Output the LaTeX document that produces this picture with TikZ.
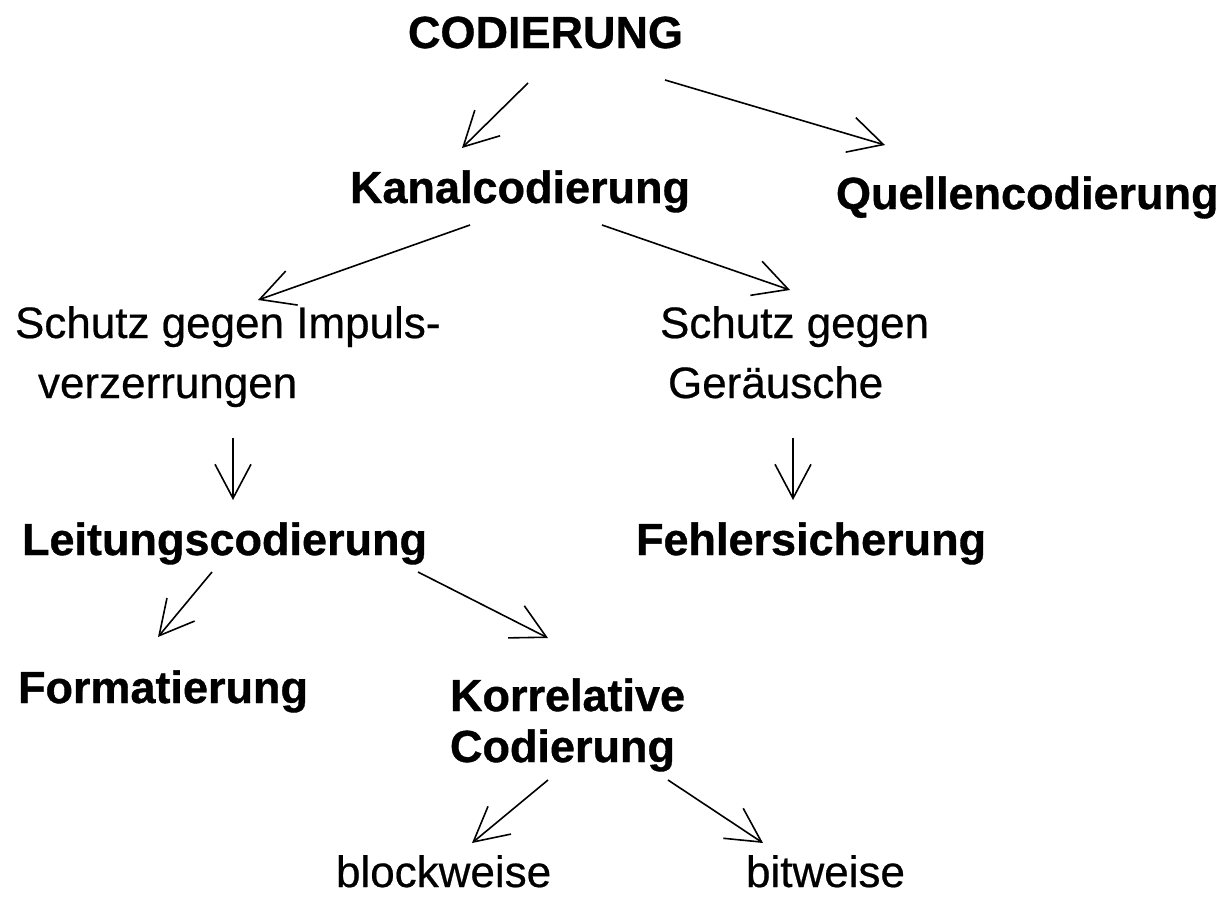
\documentclass[tikz,border=0pt]{standalone}
\usepackage{fontspec}
\setmainfont{Liberation Sans}
\newfontfamily\regf[FakeBold=0.5]{Liberation Sans}
\newfontfamily\boldf[FakeBold=0.8]{Liberation Sans}
\usetikzlibrary{arrows.meta}
\begin{document}
\begin{tikzpicture}[x=1pt,y=-1pt,
  every node/.style={inner sep=0pt,outer sep=0pt,anchor=base west},
  head/.style={font=\boldf\bfseries\fontsize{45}{52}\selectfont},
  plain/.style={font=\regf\fontsize{44}{60}\selectfont,align=left},
  headtwo/.style={font=\boldf\bfseries\fontsize{45}{51}\selectfont,align=left},
  arr/.style={line width=1.6pt,-{Straight Barb[length=34pt,width=36pt,line width=1.6pt]}}]
\useasboundingbox (0,0) rectangle (1230,902);
\fill[white] (0,0) rectangle (1230,902);

\node[head] (cod) at (408,48) {CODIERUNG};
\node[head] (kanal) at (350,203) {Kanalcodierung};
\node[head] (quell) at (836,209) {Quellencodierung};
\node[plain] (s1) at (15,398) {Schutz gegen Impuls-\\\hspace*{23pt}verzerrungen};
\node[plain] (s2) at (660,398) {Schutz gegen\\\hspace*{8pt}Geräusche};
\node[head] (leit) at (22,555) {Leitungscodierung};
\node[head] (fehl) at (636,555) {Fehlersicherung};
\node[head] (form) at (18,703) {Formatierung};
\node[headtwo] (korr) at (450,762) {Korrelative\\Codierung};
\node[plain] (block) at (336,887) {blockweise};
\node[plain] (bit) at (746,887) {bitweise};

\draw[arr] ([shift={(120,35)}]cod.base west) -- ([shift={(112,-55)}]kanal.base west);
\draw[arr] ([shift={(257,32)}]cod.base west) -- ([shift={(49,-64)}]quell.base west);
\draw[arr] ([shift={(120,22)}]kanal.base west) -- ([shift={(243,-98)}]s1.base west);
\draw[arr] ([shift={(252,22)}]kanal.base west) -- ([shift={(130,-108)}]s2.base west);
\draw[arr] ([shift={(218,40)}]s1.base west) -- ([shift={(211,-55)}]leit.base west);
\draw[arr] ([shift={(133,40)}]s2.base west) -- ([shift={(157,-55)}]fehl.base west);
\draw[arr] ([shift={(190,17)}]leit.base west) -- ([shift={(140,-66)}]form.base west);
\draw[arr] ([shift={(396,17)}]leit.base west) -- ([shift={(98,-124)}]korr.base west);
\draw[arr] ([shift={(98,18)}]korr.base west) -- ([shift={(136,-44)}]block.base west);
\draw[arr] ([shift={(218,18)}]korr.base west) -- ([shift={(17,-44)}]bit.base west);
\end{tikzpicture}
\end{document}
